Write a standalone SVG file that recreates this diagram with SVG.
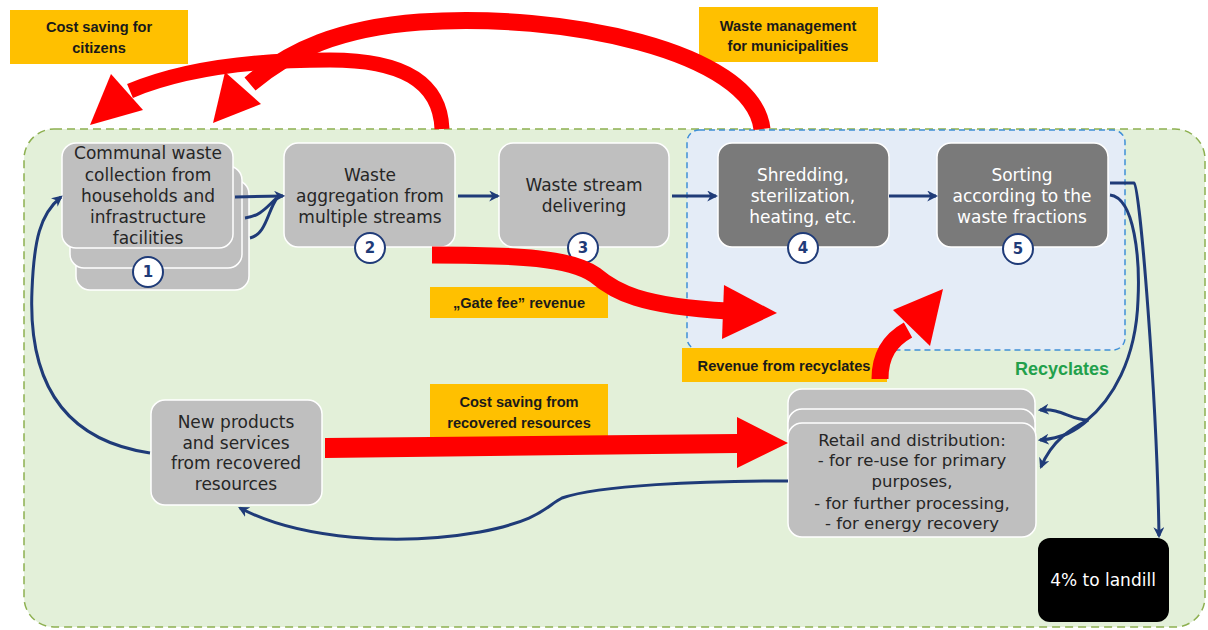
<svg xmlns="http://www.w3.org/2000/svg" width="1208" height="630" viewBox="0 0 1208 630">
  <defs>
    <style>
      .box { fill: #bfbfbf; stroke: #ffffff; stroke-width: 1.5; }
      .dark { fill: #7a7a7a; stroke: #ffffff; stroke-width: 1.5; }
      .txt { font-family: "DejaVu Sans", Verdana, sans-serif; font-size: 17px; fill: #262626; text-anchor: middle; }
      .wtxt { font-family: "DejaVu Sans", Verdana, sans-serif; font-size: 17px; fill: #ffffff; text-anchor: middle; }
      .num { fill: #ffffff; stroke: #1f3b78; stroke-width: 2; }
      .numtxt { font-family: "DejaVu Sans", Verdana, sans-serif; font-size: 15px; font-weight: bold; fill: #1f3b78; text-anchor: middle; }
      .lbl { fill: #ffc000; }
      .lbltxt { font-family: "Liberation Sans", Arial, sans-serif; font-size: 14.6px; font-weight: bold; fill: #1a1a1a; text-anchor: middle; }
      .flow { fill: none; stroke: #1f3b78; stroke-width: 3; marker-end: url(#nav); }
      .link { fill: none; stroke: #1f3b78; stroke-width: 3; }
      .red { fill: none; stroke: #ff0000; stroke-linecap: butt; }
      .redhead { fill: #ff0000; }
    </style>
    <marker id="nav" viewBox="0 0 10 10" refX="8" refY="5" markerUnits="userSpaceOnUse" markerWidth="11" markerHeight="11" orient="auto">
      <path d="M0,0 L10,5 L0,10 L3,5 Z" fill="#1f3b78"/>
    </marker>
  </defs>

  <rect width="1208" height="630" fill="#ffffff"/>

  <!-- process area and recycling zone -->
  <rect x="24" y="129" width="1181" height="498" rx="30" fill="#e3f0d9" stroke="#8db050" stroke-width="1.5" stroke-dasharray="8,5"/>
  <rect x="687" y="130" width="438" height="220" rx="12" fill="#e4ecf7" stroke="#3f8fd6" stroke-width="1.5" stroke-dasharray="6,4"/>
  <text x="1062" y="375" font-family="Liberation Sans, Arial, sans-serif" font-size="18" font-weight="bold" fill="#22a04b" text-anchor="middle">Recyclates</text>

  <!-- node 1: collection -->
  <g id="collection">
    <rect class="box" x="76" y="180" width="173" height="110" rx="14"/>
    <rect class="box" x="70" y="166" width="172" height="102" rx="14"/>
    <rect class="box" x="62" y="143" width="171" height="105" rx="14"/>
    <text class="txt" x="148" y="159">Communal waste</text>
    <text class="txt" x="148" y="181">collection from</text>
    <text class="txt" x="148" y="202">households and</text>
    <text class="txt" x="148" y="223">infrastructure</text>
    <text class="txt" x="148" y="244">facilities</text>
    <circle class="num" cx="148" cy="272" r="15"/>
    <text class="numtxt" x="148" y="277">1</text>
  </g>

  <!-- node 2: aggregation -->
  <g id="aggregation">
    <rect class="box" x="284" y="143" width="171" height="104" rx="14"/>
    <text class="txt" x="370" y="181">Waste</text>
    <text class="txt" x="370" y="202">aggregation from</text>
    <text class="txt" x="370" y="223">multiple streams</text>
    <circle class="num" cx="370" cy="248" r="15"/>
    <text class="numtxt" x="370" y="253">2</text>
  </g>

  <!-- node 3: delivering -->
  <g id="delivering">
    <rect class="box" x="499" y="143" width="170" height="104" rx="14"/>
    <text class="txt" x="584" y="191">Waste stream</text>
    <text class="txt" x="584" y="212">delivering</text>
    <circle class="num" cx="583" cy="248" r="15"/>
    <text class="numtxt" x="583" y="253">3</text>
  </g>

  <!-- node 4: shredding -->
  <g id="shredding">
    <rect class="dark" x="718" y="143" width="171" height="104" rx="14"/>
    <text class="wtxt" x="803" y="181">Shredding,</text>
    <text class="wtxt" x="803" y="202">sterilization,</text>
    <text class="wtxt" x="803" y="223">heating, etc.</text>
    <circle class="num" cx="803" cy="248" r="15"/>
    <text class="numtxt" x="803" y="253">4</text>
  </g>

  <!-- node 5: sorting -->
  <g id="sorting">
    <rect class="dark" x="937" y="143" width="171" height="104" rx="14"/>
    <text class="wtxt" x="1022" y="181">Sorting</text>
    <text class="wtxt" x="1022" y="202">according to the</text>
    <text class="wtxt" x="1022" y="223">waste fractions</text>
    <circle class="num" cx="1018" cy="249" r="15"/>
    <text class="numtxt" x="1018" y="254">5</text>
  </g>

  <!-- new products -->
  <g id="new-products">
    <rect class="box" x="151" y="400" width="171" height="105" rx="14"/>
    <text class="txt" x="236" y="428">New products</text>
    <text class="txt" x="236" y="449">and services</text>
    <text class="txt" x="236" y="469">from recovered</text>
    <text class="txt" x="236" y="490">resources</text>
  </g>

  <!-- retail and distribution -->
  <g id="retail">
    <rect class="box" x="788" y="389" width="247" height="60" rx="14"/>
    <rect class="box" x="788" y="409" width="247" height="60" rx="14"/>
    <rect class="box" x="788" y="423" width="248" height="114" rx="14"/>
    <g class="txt" style="font-size:16.5px">
      <text x="912" y="446">Retail and distribution:</text>
      <text x="912" y="466">- for re-use for primary</text>
      <text x="912" y="487">purposes,</text>
      <text x="912" y="509">- for further processing,</text>
      <text x="912" y="529">- for energy recovery</text>
    </g>
  </g>

  <!-- landfill -->
  <g id="landfill">
    <rect x="1038" y="538" width="131" height="84" rx="12" fill="#000000"/>
    <text class="wtxt" x="1103" y="586">4% to landill</text>
  </g>

  <!-- material flows -->
  <g id="connectors">
    <path class="link" d="M245,218 C262,216 268,205 277,198"/>
    <path class="link" d="M250,238 C266,235 268,210 277,198"/>
    <path class="flow" d="M235,197 L283,196"/>
    <path class="flow" d="M458,196 L498,196"/>
    <path class="flow" d="M672,196 L716,196"/>
    <path class="flow" d="M889,196 L936,196"/>
    <path class="flow" d="M1110,183 L1134,183 C1140,186 1157,400 1159,536"/>
    <path class="link" d="M1110,195 C1135,198 1140,260 1138,300 C1136,360 1112,400 1086,421"/>
    <path class="flow" d="M1088,420 C1070,420 1062,408 1040,410"/>
    <path class="flow" d="M1088,420 C1075,432 1062,438 1040,440"/>
    <path class="flow" d="M1088,420 C1072,428 1052,440 1041,467"/>
    <path class="flow" d="M788,481 C700,481 600,485 562,498 C546,506 542,520 480,532 C400,546 300,540 240,508"/>
    <path class="flow" d="M150,453 C62,440 28,380 32,290 C34,240 40,214 61,197"/>
  </g>

  <!-- value labels -->
  <g id="labels">
    <rect class="lbl" x="10" y="10" width="178" height="54"/>
    <text class="lbltxt" x="99" y="32">Cost saving for</text>
    <text class="lbltxt" x="99" y="53">citizens</text>
    <rect class="lbl" x="699" y="7" width="179" height="55"/>
    <text class="lbltxt" x="788" y="31">Waste management</text>
    <text class="lbltxt" x="788" y="51">for municipalities</text>
    <rect class="lbl" x="430" y="287" width="178" height="31"/>
    <text class="lbltxt" x="519" y="308">„Gate fee” revenue</text>
    <rect class="lbl" x="430" y="384" width="178" height="53"/>
    <text class="lbltxt" x="519" y="407">Cost saving from</text>
    <text class="lbltxt" x="519" y="428">recovered resources</text>
    <rect class="lbl" x="682" y="348" width="205" height="34"/>
    <text class="lbltxt" x="784" y="371">Revenue from recyclates</text>
  </g>

  <!-- money flows -->
  <g id="value-flows">
    <path class="red" stroke-width="17" d="M762,129 C752,50 560,12 420,22 C340,28 290,50 250,84"/>
    <polygon class="redhead" points="213,123 225,72 261,104"/>
    <path class="red" stroke-width="15" d="M442,129 C440,80 400,60 330,60 C250,60 180,70 130,91"/>
    <polygon class="redhead" points="90,125 111,74 143,110"/>
    <path class="red" stroke-width="17" d="M432,255 C520,255 570,258 595,275 C615,292 640,306 728,311"/>
    <polygon class="redhead" points="724,285 777,313 722,339"/>
    <polygon class="redhead" points="325,438 737,434 737,417 788,443 737,468 737,453 325,458"/>
    <path class="red" stroke-width="17" d="M880,379 C880,355 890,340 908,330"/>
    <polygon class="redhead" points="943,289 893,310 930,346"/>
  </g>
</svg>
